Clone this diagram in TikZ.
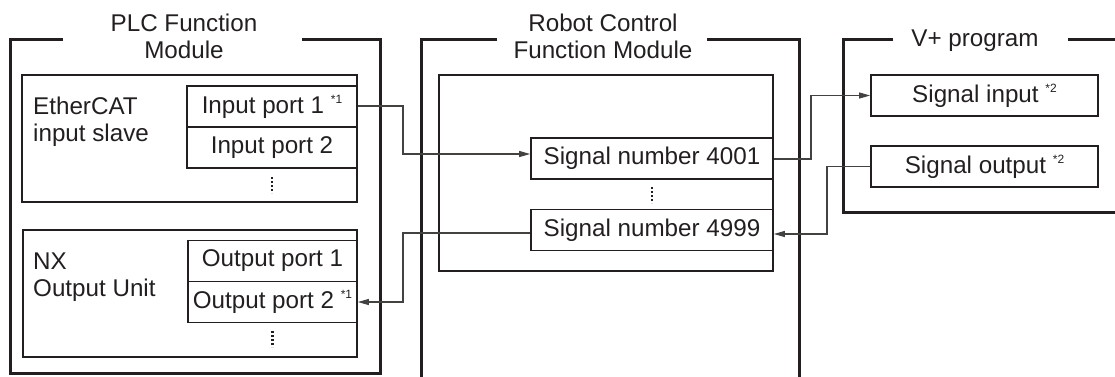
\documentclass[tikz,border=0pt]{standalone}
\usepackage{fontspec}
\setmainfont{Liberation Sans}
\usetikzlibrary{arrows.meta}
\definecolor{ink}{HTML}{231F20}
\newcommand{\fnmark}[1]{\raisebox{0.42em}{\fontsize{12}{12}\selectfont #1}}
\begin{document}
\begin{tikzpicture}[x=1pt,y=-1pt,
  txt/.style={font=\fontsize{24.2}{27}\selectfont, text=ink, inner sep=0pt},
  port/.style={draw=ink, line width=1.7pt, txt, minimum height=41pt, anchor=center},
  outerframe/.style={draw=ink, line width=3pt},
  innerbox/.style={draw=ink, line width=1.9pt},
  conn/.style={draw=ink!85, line width=1.1pt},
  arr/.style={conn, -{Triangle[length=11pt,width=6pt]}},
  dotsv/.style={draw=ink, line width=2.2pt, dash pattern=on 1.8pt off 2.2pt}
]
\useasboundingbox (0,0) rectangle (1115,376);

% outer frames
\draw[outerframe] (63,39) -- (10,39) -- (10,373) -- (380,373) -- (380,39) -- (302,39);
\draw[outerframe] (497,39) -- (421,39) -- (421,380);
\draw[outerframe] (707,39) -- (799,39) -- (799,380);
\draw[outerframe] (893,39) -- (843,39) -- (843,212) -- (1120,212);
\draw[outerframe] (1068,39) -- (1120,39);

% titles
\node[txt, align=center] (tplc) at (184,36) {PLC Function\\Module};
\node[txt, align=center] (trob) at (603,36) {Robot Control\\Function Module};
\node[txt] (tvp) at (975,41) {V+ program};

% inner boxes
\draw[innerbox] (22,75) rectangle (357,202);
\draw[innerbox] (23,230) rectangle (357,357);
\draw[innerbox] (439,75) rectangle (773,271);

% labels
\node[txt, align=left, anchor=west] (ecat) at (33,122) {EtherCAT\\input slave};
\node[txt, align=left, anchor=west] (nx) at (33,277) {NX\\Output Unit};

% ports
\node[port, minimum width=170pt] (ip1) at (272,106.5) {Input port 1 \fnmark{*1}};
\node[port, minimum width=170pt] (ip2) at (272,147.5) {Input port 2};
\node[port, minimum width=169pt] (op1) at (272.5,261) {Output port 1};
\node[port, minimum width=169pt] (op2) at (272.5,302) {Output port 2 \fnmark{*1}};
\node[port, minimum width=242pt] (s4001) at (652,158.5) {Signal number 4001};
\node[port, minimum width=242pt] (s4999) at (652,230) {Signal number 4999};
\node[port, minimum width=227pt] (sin) at (984.5,95.5) {Signal input \fnmark{*2}};
\node[port, minimum width=227pt] (sout) at (984.5,166.5) {Signal output \fnmark{*2}};

% vertical dots
\draw[dotsv] (272,177) -- (272,193);
\draw[dotsv] (272.5,331) -- (272.5,347);
\draw[dotsv] (652,187) -- (652,203);

% connectors
\coordinate (c1a) at (403,106);
\coordinate (c1b) at (403,154);
\draw[arr] (ip1.east |- c1a) -- (c1a) -- (c1b) -- (s4001.west |- c1b);

\coordinate (c2a) at (811,159);
\coordinate (c2b) at (811,95.5);
\draw[arr] (s4001.east |- c2a) -- (c2a) -- (c2b) -- (sin.west);

\coordinate (c3a) at (827,166.5);
\coordinate (c3b) at (827,234);
\draw[arr] (sout.west) -- (c3a) -- (c3b) -- (s4999.east |- c3b);

\coordinate (c4a) at (403,233);
\coordinate (c4b) at (403,302);
\draw[arr] (s4999.west |- c4a) -- (c4a) -- (c4b) -- (op2.east);
\end{tikzpicture}
\end{document}
